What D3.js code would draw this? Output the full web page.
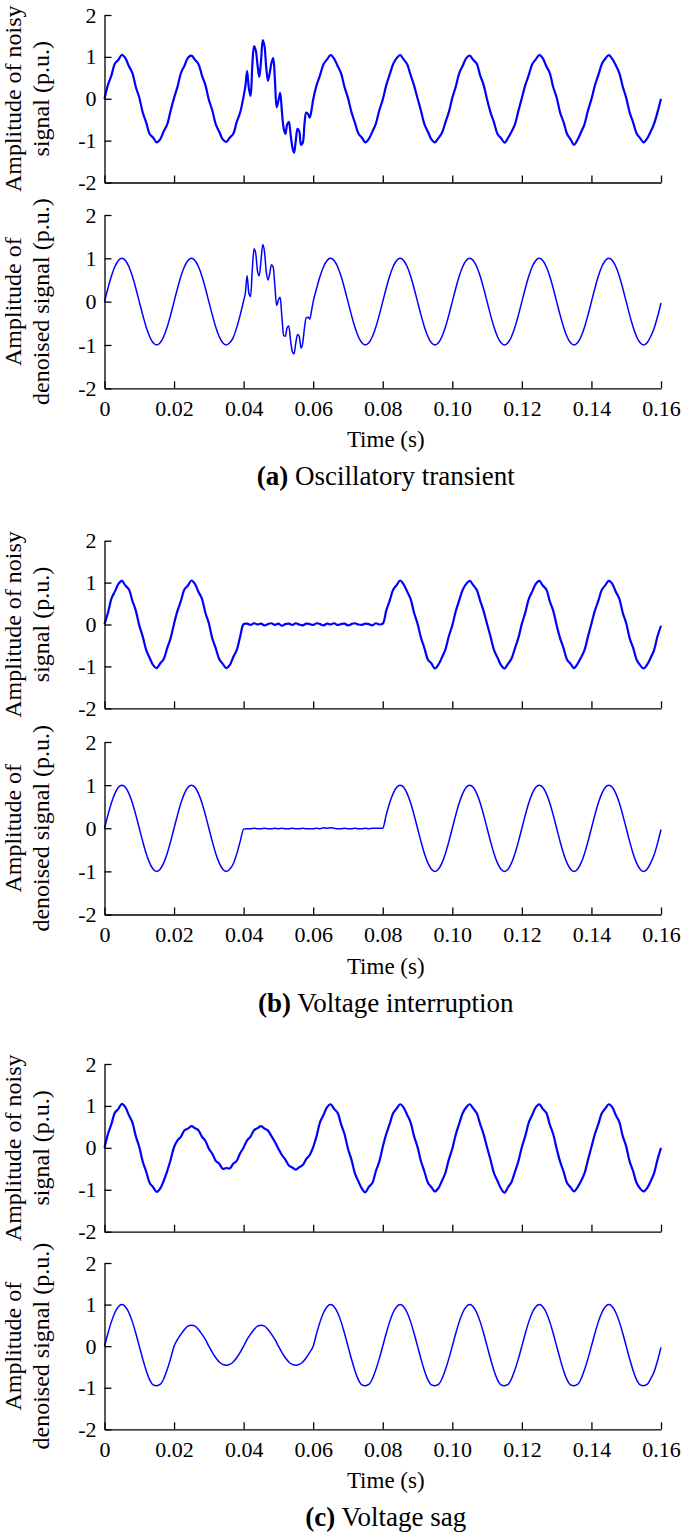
<!DOCTYPE html>
<html>
<head>
<meta charset="utf-8">
<script src="https://cdn.jsdelivr.net/npm/d3@7"></script>
<style>
  body { margin: 0; background: #fff; }
  text { font-family: "Liberation Serif", "Times New Roman", serif; fill: #000; }
</style>
</head>
<body>
<svg id="chart" width="685" height="1536"></svg>
<script>
// ---- data (time in ms, amplitude in p.u.) ----
const xTicks = [0, 20, 40, 60, 80, 100, 120, 140, 160];
const yTicks = [-2, -1, 0, 1, 2];

// 1 ms sampling for most traces, 0.5 ms inside the oscillatory transient
const timeMs = d3.range(0, 161);
const timeMsTransient = [...d3.range(0, 40), ...d3.range(80, 120).map(i => i / 2), ...d3.range(60, 161)];

const noisyA = [
  0.00, 0.33, 0.56, 0.84, 0.93, 1.05, 0.97, 0.78, 0.62, 0.28,
  0.03, -0.33, -0.57, -0.84, -0.93, -1.04, -0.97, -0.78, -0.62, -0.29,
  0.02, 0.29, 0.62, 0.79, 0.98, 1.03, 0.93, 0.83, 0.56, 0.33,
  -0.02, -0.28, -0.61, -0.79, -0.97, -1.03, -0.93, -0.84, -0.56, -0.33,
  0.06, 0.30, 0.66, 0.25, 0.07, 0.80, 1.26, 1.15, 0.80, 0.52,
  0.90, 1.40, 1.25, 0.75, 0.43, 0.62, 0.85, 0.97, 0.45, -0.20,
  -0.05, 0.14, -0.30, -0.70, -0.84, -0.62, -0.55, -0.85, -1.15, -1.29,
  -1.00, -0.72, -0.78, -1.10, -1.05, -0.60, -0.33, -0.36, -0.45, -0.28,
  -0.02, 0.33, 0.57, 0.83, 0.94, 1.04, 0.96, 0.79, 0.61, 0.28,
  0.02, -0.32, -0.57, -0.83, -0.93, -1.04, -0.96, -0.79, -0.60, -0.28,
  -0.02, 0.32, 0.58, 0.83, 0.97, 1.04, 0.94, 0.83, 0.57, 0.32,
  0.01, -0.29, -0.61, -0.79, -0.97, -1.04, -0.94, -0.82, -0.57, -0.32,
  0.02, 0.29, 0.61, 0.79, 0.97, 1.03, 0.93, 0.84, 0.56, 0.33,
  -0.02, -0.33, -0.57, -0.84, -0.94, -1.05, -0.94, -0.79, -0.61, -0.29,
  0.02, 0.33, 0.57, 0.83, 0.94, 1.04, 0.97, 0.78, 0.62, 0.28,
  0.03, -0.33, -0.56, -0.84, -0.97, -1.10, -0.98, -0.80, -0.61, -0.28,
  -0.01, 0.32, 0.57, 0.83, 0.96, 1.04, 0.95, 0.80, 0.62, 0.29,
  0.02, -0.33, -0.57, -0.83, -0.94, -1.04, -0.95, -0.79, -0.60, -0.32,
  0.00
];

const denoisedA = [
  0.00, 0.31, 0.59, 0.81, 0.95, 1.00, 0.95, 0.81, 0.59, 0.31,
  0.00, -0.31, -0.59, -0.81, -0.95, -1.00, -0.95, -0.81, -0.59, -0.31,
  0.00, 0.31, 0.59, 0.81, 0.95, 1.00, 0.95, 0.81, 0.59, 0.31,
  0.00, -0.31, -0.59, -0.81, -0.95, -1.00, -0.95, -0.83, -0.60, -0.31,
  0.02, 0.20, 0.60, 0.20, 0.12, 0.75, 1.22, 1.10, 0.70, 0.60,
  0.95, 1.32, 1.15, 0.70, 0.50, 0.65, 0.85, 0.80, 0.35, -0.09,
  0.04, 0.10, -0.35, -0.78, -0.80, -0.60, -0.56, -0.90, -1.15, -1.21,
  -0.95, -0.76, -0.80, -1.07, -0.95, -0.60, -0.37, -0.36, -0.40, -0.22,
  0.00, 0.31, 0.59, 0.81, 0.95, 1.00, 0.95, 0.81, 0.59, 0.31,
  0.00, -0.31, -0.59, -0.81, -0.95, -1.00, -0.95, -0.81, -0.59, -0.31,
  0.00, 0.31, 0.59, 0.81, 0.95, 1.00, 0.95, 0.81, 0.59, 0.31,
  0.00, -0.31, -0.59, -0.81, -0.95, -1.00, -0.95, -0.81, -0.59, -0.31,
  0.00, 0.31, 0.59, 0.81, 0.95, 1.00, 0.95, 0.81, 0.59, 0.31,
  0.00, -0.31, -0.59, -0.81, -0.95, -1.00, -0.95, -0.81, -0.59, -0.31,
  0.00, 0.31, 0.59, 0.81, 0.95, 1.00, 0.95, 0.81, 0.59, 0.31,
  0.00, -0.31, -0.59, -0.81, -0.95, -1.00, -0.95, -0.81, -0.59, -0.31,
  0.00, 0.31, 0.59, 0.81, 0.95, 1.00, 0.95, 0.81, 0.59, 0.31,
  0.00, -0.31, -0.59, -0.81, -0.95, -1.00, -0.95, -0.81, -0.62, -0.35,
  -0.03
];

const noisyB = [
  0.01, 0.28, 0.62, 0.79, 0.97, 1.04, 0.93, 0.84, 0.57, 0.33,
  -0.02, -0.29, -0.61, -0.80, -0.97, -1.04, -0.93, -0.83, -0.57, -0.33,
  0.02, 0.33, 0.57, 0.84, 0.93, 1.05, 0.97, 0.78, 0.62, 0.28,
  0.03, -0.33, -0.57, -0.83, -0.94, -1.04, -0.97, -0.78, -0.61, -0.29,
  0.01, 0.02, -0.01, 0.03, 0.00, 0.02, -0.02, 0.01, 0.03, -0.01,
  0.02, -0.03, 0.01, 0.02, -0.01, 0.03, 0.00, -0.02, 0.02, 0.01,
  -0.01, 0.03, 0.01, -0.02, 0.02, 0.00, 0.03, -0.01, 0.01, 0.02,
  -0.02, 0.01, 0.03, 0.00, -0.01, 0.02, 0.01, -0.02, 0.03, 0.00,
  0.02, 0.33, 0.57, 0.83, 0.94, 1.05, 0.96, 0.79, 0.61, 0.28,
  0.02, -0.32, -0.57, -0.84, -0.93, -1.05, -0.96, -0.79, -0.60, -0.28,
  -0.02, 0.32, 0.58, 0.83, 0.97, 1.04, 0.94, 0.83, 0.57, 0.32,
  0.01, -0.29, -0.61, -0.79, -0.97, -1.05, -0.94, -0.82, -0.57, -0.32,
  0.02, 0.29, 0.61, 0.79, 0.97, 1.04, 0.93, 0.84, 0.56, 0.33,
  -0.02, -0.33, -0.57, -0.84, -0.94, -1.04, -0.94, -0.79, -0.61, -0.29,
  0.02, 0.33, 0.57, 0.83, 0.94, 1.04, 0.97, 0.78, 0.62, 0.28,
  0.03, -0.33, -0.56, -0.84, -0.97, -1.05, -0.96, -0.80, -0.61, -0.28,
  -0.03
];

const denoisedB = [
  0.00, 0.31, 0.59, 0.81, 0.95, 1.00, 0.95, 0.81, 0.59, 0.31,
  0.00, -0.31, -0.59, -0.81, -0.95, -1.00, -0.95, -0.81, -0.59, -0.31,
  0.00, 0.31, 0.59, 0.81, 0.95, 1.00, 0.95, 0.81, 0.59, 0.31,
  0.00, -0.31, -0.59, -0.81, -0.95, -1.00, -0.95, -0.83, -0.60, -0.31,
  -0.02, -0.01, -0.01, 0.00, -0.01, -0.01, 0.00, -0.01, -0.01, 0.00,
  -0.01, 0.00, -0.01, -0.01, 0.00, -0.01, -0.01, 0.00, -0.01, -0.01,
  -0.01, 0.00, -0.01, 0.01, 0.00, 0.01, 0.00, -0.01, -0.01, 0.00,
  -0.01, -0.01, 0.00, -0.01, -0.01, 0.00, -0.01, 0.00, 0.00, 0.00,
  0.00, 0.31, 0.59, 0.81, 0.95, 1.00, 0.95, 0.81, 0.59, 0.31,
  0.00, -0.31, -0.59, -0.81, -0.95, -1.00, -0.95, -0.81, -0.59, -0.31,
  0.00, 0.31, 0.59, 0.81, 0.95, 1.00, 0.95, 0.81, 0.59, 0.31,
  0.00, -0.31, -0.59, -0.81, -0.95, -1.00, -0.95, -0.81, -0.59, -0.31,
  0.00, 0.31, 0.59, 0.81, 0.95, 1.00, 0.95, 0.81, 0.59, 0.31,
  0.00, -0.31, -0.59, -0.81, -0.95, -1.00, -0.95, -0.81, -0.59, -0.31,
  0.00, 0.31, 0.59, 0.81, 0.95, 1.00, 0.95, 0.81, 0.59, 0.31,
  0.00, -0.31, -0.59, -0.81, -0.95, -1.00, -0.95, -0.81, -0.62, -0.35,
  -0.03
];

const noisyC = [
  0.00, 0.33, 0.57, 0.84, 0.93, 1.05, 0.97, 0.78, 0.61, 0.28,
  0.02, -0.33, -0.57, -0.84, -0.94, -1.05, -0.97, -0.79, -0.56, -0.29,
  0.02, 0.18, 0.27, 0.42, 0.46, 0.52, 0.47, 0.42, 0.27, 0.17,
  -0.02, -0.14, -0.31, -0.38, -0.50, -0.48, -0.49, -0.38, -0.31, -0.13,
  0.01, 0.18, 0.27, 0.42, 0.47, 0.52, 0.46, 0.41, 0.28, 0.14,
  -0.02, -0.17, -0.28, -0.42, -0.47, -0.52, -0.46, -0.41, -0.27, -0.17,
  0.02, 0.29, 0.62, 0.79, 0.97, 1.04, 0.93, 0.84, 0.57, 0.33,
  -0.02, -0.28, -0.61, -0.80, -0.97, -1.06, -0.93, -0.84, -0.56, -0.33,
  0.02, 0.33, 0.57, 0.83, 0.94, 1.04, 0.96, 0.79, 0.61, 0.28,
  0.02, -0.32, -0.57, -0.83, -0.94, -1.04, -0.96, -0.79, -0.60, -0.28,
  -0.02, 0.32, 0.58, 0.83, 0.97, 1.04, 0.94, 0.83, 0.57, 0.32,
  0.01, -0.29, -0.61, -0.79, -0.97, -1.07, -0.94, -0.82, -0.57, -0.32,
  0.02, 0.29, 0.61, 0.79, 0.97, 1.04, 0.93, 0.84, 0.56, 0.33,
  -0.02, -0.33, -0.57, -0.84, -0.94, -1.04, -0.94, -0.79, -0.61, -0.29,
  0.02, 0.33, 0.57, 0.83, 0.94, 1.04, 0.97, 0.78, 0.62, 0.28,
  0.03, -0.33, -0.56, -0.84, -0.97, -1.04, -0.96, -0.80, -0.61, -0.28,
  0.00
];

const denoisedC = [
  0.00, 0.31, 0.59, 0.81, 0.95, 1.00, 0.95, 0.81, 0.59, 0.31,
  0.00, -0.31, -0.59, -0.81, -0.93, -0.95, -0.92, -0.79, -0.57, -0.30,
  0.00, 0.16, 0.29, 0.40, 0.48, 0.50, 0.48, 0.40, 0.29, 0.16,
  0.00, -0.15, -0.28, -0.38, -0.44, -0.46, -0.44, -0.38, -0.28, -0.15,
  0.00, 0.16, 0.29, 0.40, 0.48, 0.50, 0.48, 0.40, 0.29, 0.16,
  0.00, -0.15, -0.28, -0.38, -0.44, -0.46, -0.44, -0.38, -0.28, -0.15,
  0.00, 0.31, 0.59, 0.81, 0.95, 1.00, 0.95, 0.81, 0.59, 0.31,
  0.00, -0.31, -0.59, -0.81, -0.93, -0.95, -0.92, -0.79, -0.57, -0.30,
  0.00, 0.31, 0.59, 0.81, 0.95, 1.00, 0.95, 0.81, 0.59, 0.31,
  0.00, -0.31, -0.59, -0.81, -0.93, -0.95, -0.92, -0.79, -0.57, -0.30,
  0.00, 0.31, 0.59, 0.81, 0.95, 1.00, 0.95, 0.81, 0.59, 0.31,
  0.00, -0.31, -0.59, -0.81, -0.93, -0.95, -0.92, -0.79, -0.57, -0.30,
  0.00, 0.31, 0.59, 0.81, 0.95, 1.00, 0.95, 0.81, 0.59, 0.31,
  0.00, -0.31, -0.59, -0.81, -0.93, -0.95, -0.92, -0.79, -0.57, -0.30,
  0.00, 0.31, 0.59, 0.81, 0.95, 1.00, 0.95, 0.81, 0.59, 0.31,
  0.00, -0.31, -0.59, -0.81, -0.93, -0.95, -0.92, -0.79, -0.62, -0.35,
  -0.03
];

const captionTags = ["(a)", "(b)", "(c)"];
const captionTexts = [" Oscillatory transient", " Voltage interruption", " Voltage sag"];

// ---- layout ----
const svg = d3.select("#chart");
const plotLeft = 104.5, plotRight = 661;
const lineColor = "#0000ff";

const x = d3.scaleLinear().domain([0, 160]).range([plotLeft, plotRight]);

const groups = [
  { noisy: noisyA, denoised: denoisedA, time: timeMsTransient, noisyBox: [15, 182.5], denoisedBox: [215, 388.3] },
  { noisy: noisyB, denoised: denoisedB, time: timeMs, noisyBox: [540.7, 708.3], denoisedBox: [742, 914.5] },
  { noisy: noisyC, denoised: denoisedC, time: timeMs, noisyBox: [1064, 1231.7], denoisedBox: [1263, 1429.3] }
];

function drawPanel(values, time, box, opts) {
  const [top, bottom] = box;
  const y = d3.scaleLinear().domain([-2, 2]).range([bottom, top]);
  const g = svg.append("g");

  // signal
  const line = d3.line()
    .x((d, i) => x(time[i]))
    .y(d => y(d))
    .curve(opts.smooth ? d3.curveMonotoneX : d3.curveCatmullRom.alpha(0.5));
  g.append("path")
    .datum(values)
    .attr("d", line)
    .attr("fill", "none")
    .attr("stroke", lineColor)
    .attr("stroke-width", opts.smooth ? 1.5 : 2.2)
    .attr("stroke-linejoin", "round");

  // axes with inward ticks
  const xAxis = g.append("g")
    .attr("transform", `translate(0,${bottom})`)
    .call(d3.axisBottom(x)
      .tickValues(xTicks)
      .tickSizeInner(-7)
      .tickSizeOuter(0)
      .tickPadding(12)
      .tickFormat(opts.showX ? (d => d === 0 ? "0" : d3.format(".2f")(d / 1000)) : ""));

  const yAxis = g.append("g")
    .attr("transform", `translate(${plotLeft},0)`)
    .call(d3.axisLeft(y)
      .tickValues(yTicks)
      .tickSizeInner(-7)
      .tickSizeOuter(0)
      .tickPadding(8)
      .tickFormat(d3.format("d")));

  [xAxis, yAxis].forEach(a => {
    a.selectAll("path, line").attr("stroke", "#000").attr("stroke-width", 1.3);
    a.selectAll("text")
      .attr("fill", "#000")
      .style("font-family", '"Liberation Serif", serif')
      .style("font-size", "22px");
  });
  yAxis.selectAll("text").text(d => d < 0 ? "-" + Math.abs(d) : d);

  // y title (two lines, rotated)
  const mid = (top + bottom) / 2;
  opts.title.forEach((t, i) => {
    g.append("text")
      .attr("transform", `translate(${i === 0 ? 21 : 49},${mid}) rotate(-90)`)
      .attr("text-anchor", "middle")
      .style("font-size", "24px")
      .text(t);
  });
}

groups.forEach((grp, gi) => {
  drawPanel(grp.noisy, grp.time, grp.noisyBox,
    { smooth: false, showX: false, title: ["Amplitude of noisy", "signal (p.u.)"] });
  drawPanel(grp.denoised, grp.time, grp.denoisedBox,
    { smooth: true, showX: true, title: ["Amplitude of", "denoised signal (p.u.)"] });

  const base = grp.denoisedBox[1];
  svg.append("text")
    .attr("x", (plotLeft + plotRight) / 2 + 3)
    .attr("y", base + 59)
    .attr("text-anchor", "middle")
    .style("font-size", "23px")
    .text("Time (s)");

  const cap = svg.append("text")
    .attr("x", (plotLeft + plotRight) / 2 + 3)
    .attr("y", base + 97)
    .attr("text-anchor", "middle")
    .style("font-size", "27px");
  cap.append("tspan").attr("font-weight", "bold").text(captionTags[gi]);
  cap.append("tspan").text(captionTexts[gi]);
});
</script>
</body>
</html>
